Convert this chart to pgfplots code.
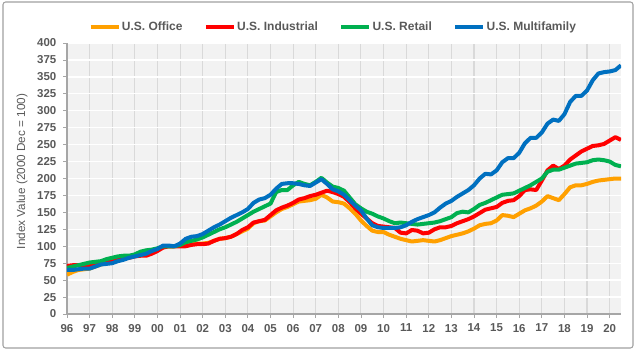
\documentclass[border=0pt]{standalone}
\usepackage{fontspec}
\setmainfont{Liberation Sans}
\usepackage{pgfplots}
\pgfplotsset{compat=1.18}
\definecolor{office}{HTML}{FFA000}
\definecolor{indus}{HTML}{FF0000}
\definecolor{retail}{HTML}{00B050}
\definecolor{multi}{HTML}{0070C0}
\definecolor{txt}{HTML}{595959}
\definecolor{bg}{HTML}{F2F2F2}
\definecolor{vgrid}{HTML}{D9D9D9}
\definecolor{axln}{HTML}{A6A6A6}
\definecolor{frame}{HTML}{A0A0A0}
\begin{document}
\begin{tikzpicture}
\begin{axis}[
  scale only axis,
  width=415.5pt, height=203.25pt,
  xmin=1996, xmax=2020.5, ymin=0, ymax=400,
  axis x line*=bottom, axis y line*=left,
  axis line style={axln, line width=0.8pt},
  axis background/.style={fill=bg},
  xtick={1996,...,2020},
  xticklabels={96,97,98,99,00,01,02,03,04,05,06,07,08,09,10,11,12,13,14,15,16,17,18,19,20},
  ytick={0,25,...,400},
  tick align=outside, major tick length=3pt,
  tick style={axln, line width=0.6pt},
  grid=major,
  x grid style={vgrid, line width=0.8pt},
  y grid style={white, line width=1pt},
  /pgf/number format/assume math mode=true,
  tick label style={font=\fontsize{8.6}{10}\selectfont\bfseries, text=txt},
  xticklabel style={yshift=-1pt},
  yticklabel style={xshift=-1.5pt},
  ylabel={Index Value (2000 Dec = 100)},
  ylabel style={at={(rel axis cs:-0.0812,0.526)}, anchor=center, font=\fontsize{8.8}{10}\selectfont, text=txt},
  legend columns=4,
  legend style={at={(0.48,1.059)}, anchor=center, draw=none, fill=none,
    font=\fontsize{9}{11}\selectfont\bfseries, text=txt,
    nodes={inner sep=1pt},
    /tikz/every even column/.append style={column sep=15pt}},
  legend cell align=left,
  legend image code/.code={\draw[#1, line width=3pt] (0pt,0pt) -- (21pt,0pt);},
  every axis plot/.append style={line width=3pt, line join=round},
]
\addplot[office] coordinates {
(1996.00,58)(1996.25,62)(1996.50,65)(1996.75,66)(1997.00,67)(1997.25,70)(1997.50,73)(1997.75,76)
(1998.00,79)(1998.25,81)(1998.50,83)(1998.75,84)(1999.00,86)(1999.25,87)(1999.50,88)(1999.75,91)
(2000.00,95)(2000.25,99)(2000.50,100)(2000.75,100)(2001.00,101)(2001.25,102)(2001.50,103)(2001.75,104)
(2002.00,104)(2002.25,105)(2002.50,108)(2002.75,111)(2003.00,112)(2003.25,114)(2003.50,118)(2003.75,122)
(2004.00,126)(2004.25,134)(2004.50,137)(2004.75,138)(2005.00,144)(2005.25,150)(2005.50,155)(2005.75,158)
(2006.00,162)(2006.25,166)(2006.50,167)(2006.75,168)(2007.00,170)(2007.25,176)(2007.50,172)(2007.75,166)
(2008.00,165)(2008.25,163)(2008.50,156)(2008.75,148)(2009.00,138)(2009.25,130)(2009.50,123)(2009.75,121)
(2010.00,121)(2010.25,117)(2010.50,114)(2010.75,111)(2011.00,109)(2011.25,107)(2011.50,108)(2011.75,109)
(2012.00,108)(2012.25,107)(2012.50,109)(2012.75,112)(2013.00,115)(2013.25,117)(2013.50,119)(2013.75,122)
(2014.00,126)(2014.25,131)(2014.50,133)(2014.75,134)(2015.00,138)(2015.25,146)(2015.50,145)(2015.75,143)
(2016.00,148)(2016.25,153)(2016.50,156)(2016.75,160)(2017.00,166)(2017.25,174)(2017.50,171)(2017.75,168)
(2018.00,177)(2018.25,187)(2018.50,190)(2018.75,190)(2019.00,192)(2019.25,195)(2019.50,197)(2019.75,198)
(2020.00,199)(2020.25,200)(2020.50,200)
};
\addlegendentry{U.S. Office}
\addplot[indus] coordinates {
(1996.00,71)(1996.25,72)(1996.50,72)(1996.75,71)(1997.00,72)(1997.25,74)(1997.50,76)(1997.75,79)
(1998.00,80)(1998.25,81)(1998.50,82)(1998.75,83)(1999.00,85)(1999.25,86)(1999.50,86)(1999.75,89)
(2000.00,93)(2000.25,98)(2000.50,100)(2000.75,100)(2001.00,100)(2001.25,100)(2001.50,102)(2001.75,103)
(2002.00,103)(2002.25,104)(2002.50,108)(2002.75,111)(2003.00,112)(2003.25,114)(2003.50,118)(2003.75,124)
(2004.00,128)(2004.25,135)(2004.50,137)(2004.75,139)(2005.00,146)(2005.25,153)(2005.50,157)(2005.75,160)
(2006.00,164)(2006.25,169)(2006.50,171)(2006.75,174)(2007.00,176)(2007.25,179)(2007.50,182)(2007.75,180)
(2008.00,177)(2008.25,173)(2008.50,165)(2008.75,156)(2009.00,148)(2009.25,141)(2009.50,134)(2009.75,130)
(2010.00,129)(2010.25,128)(2010.50,127)(2010.75,120)(2011.00,119)(2011.25,124)(2011.50,123)(2011.75,119)
(2012.00,120)(2012.25,125)(2012.50,128)(2012.75,128)(2013.00,130)(2013.25,134)(2013.50,137)(2013.75,140)
(2014.00,144)(2014.25,149)(2014.50,154)(2014.75,156)(2015.00,158)(2015.25,164)(2015.50,167)(2015.75,168)
(2016.00,174)(2016.25,183)(2016.50,184)(2016.75,183)(2017.00,197)(2017.25,212)(2017.50,219)(2017.75,214)
(2018.00,219)(2018.25,228)(2018.50,234)(2018.75,240)(2019.00,244)(2019.25,248)(2019.50,249)(2019.75,251)
(2020.00,256)(2020.25,261)(2020.50,257)
};
\addlegendentry{U.S. Industrial}
\addplot[retail] coordinates {
(1996.00,68)(1996.25,70)(1996.50,72)(1996.75,74)(1997.00,76)(1997.25,77)(1997.50,78)(1997.75,81)
(1998.00,83)(1998.25,85)(1998.50,86)(1998.75,86)(1999.00,88)(1999.25,92)(1999.50,94)(1999.75,95)
(2000.00,97)(2000.25,100)(2000.50,100)(2000.75,100)(2001.00,102)(2001.25,106)(2001.50,108)(2001.75,110)
(2002.00,113)(2002.25,117)(2002.50,121)(2002.75,125)(2003.00,128)(2003.25,132)(2003.50,136)(2003.75,141)
(2004.00,146)(2004.25,151)(2004.50,155)(2004.75,159)(2005.00,163)(2005.25,180)(2005.50,183)(2005.75,183)
(2006.00,190)(2006.25,195)(2006.50,192)(2006.75,190)(2007.00,195)(2007.25,201)(2007.50,194)(2007.75,188)
(2008.00,186)(2008.25,182)(2008.50,172)(2008.75,162)(2009.00,156)(2009.25,151)(2009.50,148)(2009.75,144)
(2010.00,141)(2010.25,137)(2010.50,134)(2010.75,135)(2011.00,134)(2011.25,133)(2011.50,132)(2011.75,133)
(2012.00,134)(2012.25,135)(2012.50,137)(2012.75,140)(2013.00,143)(2013.25,149)(2013.50,151)(2013.75,150)
(2014.00,155)(2014.25,161)(2014.50,164)(2014.75,168)(2015.00,172)(2015.25,176)(2015.50,177)(2015.75,178)
(2016.00,182)(2016.25,186)(2016.50,190)(2016.75,195)(2017.00,200)(2017.25,210)(2017.50,213)(2017.75,213)
(2018.00,216)(2018.25,219)(2018.50,222)(2018.75,223)(2019.00,224)(2019.25,227)(2019.50,228)(2019.75,227)
(2020.00,225)(2020.25,220)(2020.50,218)
};
\addlegendentry{U.S. Retail}
\addplot[multi] coordinates {
(1996.00,65)(1996.25,65)(1996.50,66)(1996.75,67)(1997.00,67)(1997.25,70)(1997.50,73)(1997.75,74)
(1998.00,75)(1998.25,78)(1998.50,80)(1998.75,83)(1999.00,85)(1999.25,87)(1999.50,89)(1999.75,93)
(2000.00,96)(2000.25,101)(2000.50,101)(2000.75,100)(2001.00,104)(2001.25,111)(2001.50,114)(2001.75,115)
(2002.00,118)(2002.25,123)(2002.50,128)(2002.75,132)(2003.00,137)(2003.25,142)(2003.50,146)(2003.75,150)
(2004.00,155)(2004.25,164)(2004.50,169)(2004.75,171)(2005.00,176)(2005.25,185)(2005.50,192)(2005.75,193)
(2006.00,193)(2006.25,192)(2006.50,190)(2006.75,189)(2007.00,194)(2007.25,199)(2007.50,192)(2007.75,184)
(2008.00,181)(2008.25,176)(2008.50,168)(2008.75,160)(2009.00,153)(2009.25,141)(2009.50,131)(2009.75,128)
(2010.00,127)(2010.25,127)(2010.50,127)(2010.75,128)(2011.00,131)(2011.25,136)(2011.50,140)(2011.75,143)
(2012.00,146)(2012.25,150)(2012.50,157)(2012.75,163)(2013.00,167)(2013.25,173)(2013.50,178)(2013.75,183)
(2014.00,190)(2014.25,200)(2014.50,207)(2014.75,206)(2015.00,212)(2015.25,224)(2015.50,230)(2015.75,230)
(2016.00,238)(2016.25,252)(2016.50,260)(2016.75,260)(2017.00,268)(2017.25,281)(2017.50,287)(2017.75,285)
(2018.00,295)(2018.25,313)(2018.50,322)(2018.75,322)(2019.00,330)(2019.25,345)(2019.50,355)(2019.75,357)
(2020.00,358)(2020.25,360)(2020.50,367)
};
\addlegendentry{U.S. Multifamily}
\coordinate (ll) at (rel axis cs:0,0);
\end{axis}
\begin{scope}[shift={(ll)}]
\draw[frame, line width=0.8pt, rounded corners=2pt] (-48pt,-25.5pt) rectangle (424.5pt,234pt);
\useasboundingbox (-50.25pt,-27.75pt) rectangle (429.75pt,235.5pt);
\end{scope}
\end{tikzpicture}
\end{document}
